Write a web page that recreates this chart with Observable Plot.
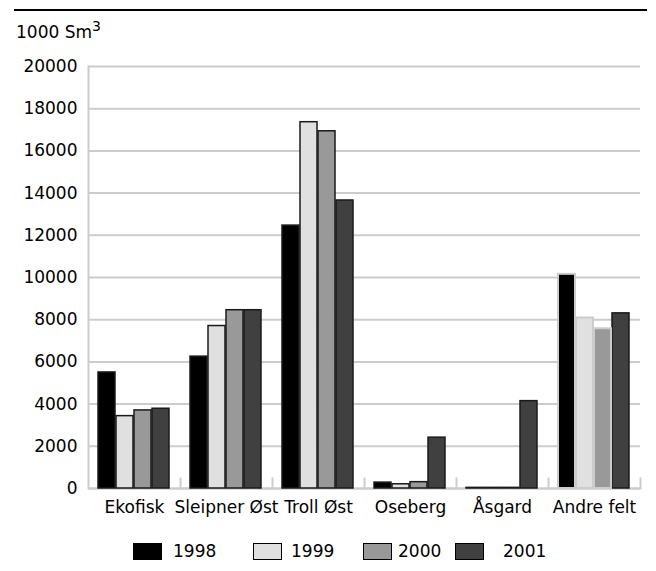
<!DOCTYPE html>
<html><head><meta charset="utf-8">
<script src="https://cdn.jsdelivr.net/npm/d3@7"></script>
<script src="https://cdn.jsdelivr.net/npm/@observablehq/plot@0.6"></script>
<style>
body{margin:0;background:#fff;font-family:"DejaVu Sans",sans-serif;color:#000;}
#wrap{position:relative;width:656px;height:571px;overflow:hidden;}
#header{position:relative;height:56px;}
#header .rule{position:absolute;top:9px;left:14px;width:633px;height:2px;background:#000;}
#header .title{position:absolute;left:16px;top:24px;font-size:17px;line-height:17px;white-space:nowrap;}
#header .sup{font-size:14px;position:relative;top:-7px;}
#chart svg{display:block;}
#legend{position:relative;height:45px;}
.item{position:absolute;top:16px;height:18px;font-size:17px;line-height:18px;white-space:nowrap;}
.sw{position:absolute;top:0;width:29px;height:17px;border:1px solid #000;box-sizing:border-box;}
</style></head><body>
<div id="wrap">
  <div id="header"><div class="rule"></div><div class="title">1000 Sm<span class="sup">3</span></div></div>
  <div id="chart"></div>
  <div id="legend"></div>
</div>
<script>
const fields = ["Ekofisk", "Sleipner Øst", "Troll Øst", "Oseberg", "Åsgard", "Andre felt"];
const years = ["1998", "1999", "2000", "2001"];
const v1998 = [5500, 6250, 12460, 280, 30, 10150];
const v1999 = [3430, 7700, 17360, 200, 30, 8080];
const v2000 = [3700, 8450, 16930, 300, 30, 7570];
const v2001 = [3780, 8450, 13650, 2410, 4140, 8300];
const yTicks = [0, 2000, 4000, 6000, 8000, 10000, 12000, 14000, 16000, 18000, 20000];
const colors = ["#000000", "#e0e0e0", "#999999", "#404040"];

const series = [v1998, v1999, v2000, v2001];
const data = [];
fields.forEach((f, i) => years.forEach((y, j) => data.push({field: f, year: y, value: series[j][i]})));

const grayEdge = d => d.field === "Andre felt" && d.year !== "2001";

const chart = Plot.plot({
  width: 656,
  height: 470,
  marginTop: 10,
  marginBottom: 38,
  marginLeft: 86,
  marginRight: 14,
  style: {fontSize: "17px", fontFamily: "'DejaVu Sans', sans-serif", color: "#000", background: "#fff"},
  fx: {domain: fields, padding: 0, label: null},
  x: {domain: years, paddingInner: 0.05, paddingOuter: 0.53, axis: null},
  y: {domain: [0, 20000], label: null},
  color: {domain: years, range: colors},
  marks: [
    Plot.gridY(yTicks, {stroke: "#cccccc", strokeOpacity: 1, strokeWidth: 2}),
    Plot.ruleY([0], {stroke: "#cccccc", strokeWidth: 2}),
    Plot.frame({anchor: "right", insetTop: 412, stroke: "#cccccc", strokeWidth: 2}),
    Plot.frame({anchor: "left", stroke: "#cccccc", strokeWidth: 2, facet: "super"}),
    Plot.barY(data.filter(d => !grayEdge(d)), {fx: "field", x: "year", y: "value", fill: "year", stroke: "#1a1a1a", strokeWidth: 1.5}),
    Plot.barY(data.filter(grayEdge), {fx: "field", x: "year", y: "value", fill: "year", stroke: "#cccccc", strokeWidth: 2}),
    Plot.axisY({ticks: yTicks, tickSize: 0, tickPadding: 11, tickFormat: d3.format("d"), label: null, fill: "#000", fontSize: 17}),
    Plot.axisFx({anchor: "bottom", tickSize: 0, tickPadding: 12, label: null, fill: "#000", fontSize: 17})
  ]
});
document.getElementById("chart").appendChild(chart);

const legendPos = [[133, 173], [253, 291], [363, 398], [455, 503]];
const legend = document.getElementById("legend");
years.forEach((y, j) => {
  const sw = document.createElement("div");
  sw.className = "sw";
  sw.style.left = legendPos[j][0] + "px";
  sw.style.top = "17px";
  sw.style.background = colors[j];
  legend.appendChild(sw);
  const t = document.createElement("div");
  t.className = "item";
  t.style.left = legendPos[j][1] + "px";
  t.textContent = y;
  legend.appendChild(t);
});
</script>
</body></html>
